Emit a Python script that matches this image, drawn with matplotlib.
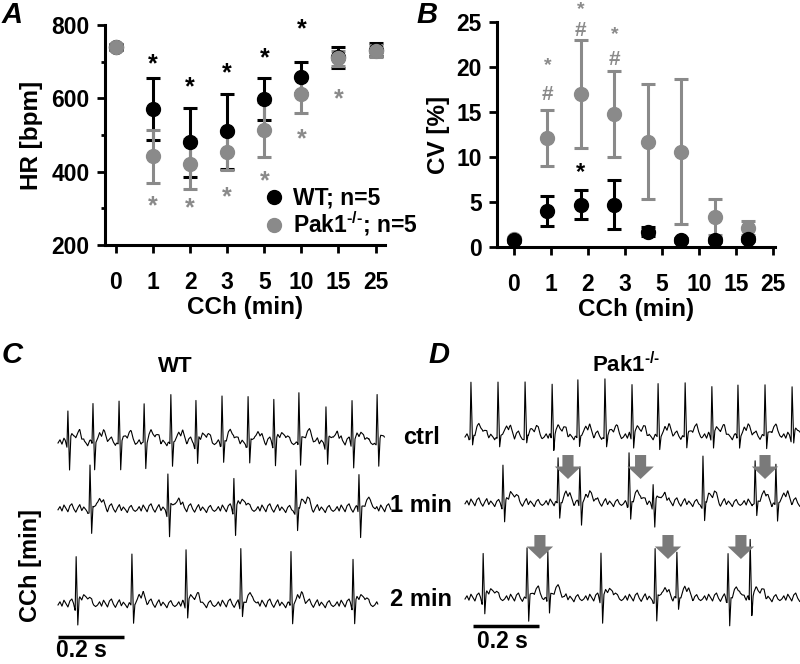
import numpy as np
import matplotlib
matplotlib.use('Agg')
import matplotlib.pyplot as plt
from matplotlib.lines import Line2D

plt.rcParams['font.family'] = ['Liberation Sans', 'DejaVu Sans']
plt.rcParams['font.weight'] = 'bold'
plt.rcParams['axes.labelweight'] = 'bold'
plt.rcParams['mathtext.fontset'] = 'custom'
plt.rcParams['mathtext.bf'] = 'Liberation Sans:bold'
plt.rcParams['mathtext.rm'] = 'Liberation Sans:bold'
plt.rcParams['mathtext.default'] = 'bf'

BLACK = '#000000'
GRAY = '#8a8a8a'
KO_LABEL = 'Pak1$^{\u2010/\u2010}$'

# ---- panel A / B data ----
cch_labels = ['0', '1', '2', '3', '5', '10', '15', '25']

hr_wt = [740, 572, 480, 510, 598, 658, 712, 733]
hr_wt_err = [8, 85, 95, 102, 58, 42, 28, 18]
hr_ko = [740, 442, 422, 455, 515, 612, 710, 730]
hr_ko_err = [8, 72, 68, 50, 75, 52, 20, 17]
hr_star_wt = [None, 692, 631, 669, 711, 788, None, None]
hr_star_ko = [None, 305, 300, 329, 375, 489, 598, None]

cv_wt = [0.8, 4.0, 4.7, 4.7, 1.7, 0.8, 0.8, 0.9]
cv_wt_err = [0.2, 1.7, 1.6, 2.7, 0.5, 0.2, 0.2, 0.2]
cv_ko = [0.9, 12.1, 17.0, 14.8, 11.7, 10.6, 3.3, 2.1]
cv_ko_err = [0.2, 3.1, 6.0, 4.8, 6.4, 8.1, 2.0, 0.8]
cv_star_ko = [None, 20.2, 26.4, 23.6, None, None, None, None]
cv_hash_ko = [None, 16.9, 24.0, 20.8, None, None, None, None]
cv_star_wt = [None, None, 8.3, None, None, None, None, None]

# ---- ECG traces: beat times (s), R height and S depth (mV) ----
row_names = ['ctrl', '1 min', '2 min']

wt_times = [
    [0.030, 0.106, 0.185, 0.261, 0.342, 0.418, 0.497, 0.576, 0.654, 0.730, 0.812, 0.891, 0.967],
    [0.097, 0.333, 0.533, 0.721, 0.912],
    [0.055, 0.224, 0.388, 0.554, 0.706, 0.894],
]
wt_r = [
    [0.85, 0.95, 0.93, 0.90, 1.10, 1.05, 1.08, 1.10, 1.15, 1.25, 0.93, 1.08, 1.15],
    [1.05, 0.90, 0.83, 0.98, 0.90],
    [1.25, 1.20, 1.40, 1.40, 1.30, 1.20],
]
wt_s = [
    [0.75, 0.65, 0.70, 0.65, 0.60, 0.60, 0.55, 0.60, 0.60, 0.60, 0.60, 0.60, 0.55],
    [0.70, 0.75, 0.65, 0.60, 0.75],
    [0.55, 0.45, 0.35, 0.35, 0.45, 0.50],
]
wt_dur = [0.99, 1.01, 0.97]

ko_times = [
    [0.018, 0.100, 0.182, 0.264, 0.342, 0.424, 0.506, 0.585, 0.667, 0.748, 0.827, 0.909, 0.991],
    [0.115, 0.282, 0.348, 0.497, 0.570, 0.721, 0.879, 0.942],
    [0.055, 0.188, 0.251, 0.412, 0.576, 0.642, 0.797, 0.864],
]
ko_r = [
    [1.25, 1.28, 1.30, 1.28, 1.32, 1.35, 1.30, 1.28, 1.25, 1.28, 1.28, 1.25, 1.28],
    [1.00, 1.00, 0.92, 1.18, 0.55, 1.18, 0.95, 0.88],
    [1.18, 1.20, 1.20, 1.18, 1.20, 1.02, 1.08, 1.45],
]
ko_s = [
    [0.25, 0.30, 0.25, 0.30, 0.25, 0.30, 0.25, 0.30, 0.25, 0.30, 0.25, 0.30, 0.25],
    [0.45, 0.40, 0.50, 0.45, 0.62, 0.50, 0.40, 0.45],
    [0.42, 0.55, 0.42, 0.60, 0.65, 0.30, 0.70, 0.38],
]
ko_dur = [1.015, 1.015, 1.015]

# arrows marking extra beats in Pak1-/- (s)
ko_arrows = [[], [0.312, 0.532, 0.909], [0.227, 0.615, 0.836]]

# small baseline wiggle, 6 ms per sample
ripple = [0.00, 0.08, -0.03, 0.12, 0.04, -0.05, 0.10, 0.15, 0.02, -0.06,
          0.05, 0.13, -0.02, 0.07, 0.01, -0.07, 0.06, 0.11, 0.00, -0.04]


def ecg(times, r_amp, s_amp, dur, dt=0.001):
    t = np.arange(0, dur, dt)
    rt = np.arange(len(ripple) + 1) * 0.006
    rv = ripple + ripple[:1]
    y = np.interp(t % rt[-1], rt, rv)
    for tb, a, s in zip(times, r_amp, s_amp):
        kt = tb + np.array([-0.008, -0.003, 0.0, 0.005, 0.009, 0.02, 0.035, 0.05])
        kv = [0, -0.1, a, -s, 0.05, 0.18, 0.22, 0]
        m = (t >= kt[0]) & (t <= kt[-1])
        y[m] += np.interp(t[m], kt, kv)
    return t, y


def style_axes(ax):
    for side in ['top', 'right']:
        ax.spines[side].set_visible(False)
    for side in ['left', 'bottom']:
        ax.spines[side].set_linewidth(2.2)
    ax.tick_params(axis='both', width=2, length=6, labelsize=16.5)
    ax.tick_params(axis='x', pad=13)
    ax.tick_params(axis='y', pad=5)


fig = plt.figure(figsize=(8, 6.64), dpi=100)

# ---------------- A ----------------
axA = fig.add_axes([0.131, 0.631, 0.35, 0.331])
xa = np.arange(len(cch_labels))
axA.errorbar(xa, hr_wt, yerr=hr_wt_err, fmt='none', ecolor=BLACK, elinewidth=2.2, capsize=5, capthick=2.2)
axA.errorbar(xa, hr_ko, yerr=hr_ko_err, fmt='none', ecolor=GRAY, elinewidth=2.2, capsize=5, capthick=2.2)
axA.plot(xa, hr_wt, 'o', color=BLACK, ms=10, zorder=3)
axA.plot(xa, hr_ko, 'o', color=GRAY, ms=10, zorder=4)
for i in range(len(xa)):
    if hr_star_wt[i] is not None:
        axA.text(xa[i], hr_star_wt[i], '*', color=BLACK, ha='center', va='center', fontsize=18)
    if hr_star_ko[i] is not None:
        axA.text(xa[i], hr_star_ko[i], '*', color=GRAY, ha='center', va='center', fontsize=18)
axA.set_xlim(-0.3, 7.25)
axA.set_ylim(200, 800)
axA.set_yticks([200, 400, 600, 800])
axA.set_yticks([300, 500, 700], minor=True)
axA.set_xticks(xa)
axA.set_xticklabels(cch_labels)
axA.set_xlabel('CCh (min)', fontsize=17.5, labelpad=1)
axA.set_ylabel('HR [bpm]', fontsize=17.5, labelpad=6)
style_axes(axA)
axA.tick_params(axis='y', which='minor', width=2, length=3)
handles = [Line2D([], [], marker='o', ls='none', color=BLACK, ms=10),
           Line2D([], [], marker='o', ls='none', color=GRAY, ms=10)]
leg = axA.legend(handles, ['WT; n=5', KO_LABEL + '; n=5'], loc='lower left',
                 bbox_to_anchor=(0.555, 0.02), frameon=False, fontsize=16.5,
                 handletextpad=0.35, labelspacing=0.0, borderaxespad=0,
                 borderpad=0.1, handlelength=1.0)

# ---------------- B ----------------
axB = fig.add_axes([0.621, 0.628, 0.3475, 0.339])
xb = np.arange(len(cch_labels)) * 0.905
axB.errorbar(xb, cv_ko, yerr=cv_ko_err, fmt='none', ecolor=GRAY, elinewidth=2.2, capsize=5, capthick=2.2)
axB.errorbar(xb, cv_wt, yerr=cv_wt_err, fmt='none', ecolor=BLACK, elinewidth=2.2, capsize=5, capthick=2.2)
axB.plot(xb, cv_ko, 'o', color=GRAY, ms=10, zorder=3)
axB.plot(xb, cv_wt, 'o', color=BLACK, ms=10, zorder=4)
for i in range(len(xb)):
    if cv_star_ko[i] is not None:
        axB.text(xb[i], cv_star_ko[i], '*', color=GRAY, ha='center', va='center', fontsize=14, clip_on=False)
    if cv_hash_ko[i] is not None:
        axB.text(xb[i], cv_hash_ko[i], '#', color=GRAY, ha='center', va='center', fontsize=15)
    if cv_star_wt[i] is not None:
        axB.text(xb[i], cv_star_wt[i], '*', color=BLACK, ha='center', va='center', fontsize=17)
axB.set_xlim(-0.46, 7.05)
axB.set_ylim(0, 25)
axB.set_yticks([0, 5, 10, 15, 20, 25])
axB.set_xticks(np.arange(len(cch_labels)))
axB.set_xticklabels(cch_labels)
axB.set_xlabel('CCh (min)', fontsize=17.5, labelpad=1)
axB.set_ylabel('CV [%]', fontsize=17.5, labelpad=4)
style_axes(axB)

# ---------------- C / D traces ----------------
axC = fig.add_axes([0.0725, 0.0166, 0.4125, 0.4066])
axD = fig.add_axes([0.58125, 0.0256, 0.41875, 0.4066])
offsets = [0.0, -1.67, -4.05]

for ax, times, rr, ss, durs in [(axC, wt_times, wt_r, wt_s, wt_dur),
                                (axD, ko_times, ko_r, ko_s, ko_dur)]:
    for k in range(3):
        t, y = ecg(times[k], rr[k], ss[k], durs[k])
        ax.plot(t, y + offsets[k], color=BLACK, lw=0.8, clip_on=False)
    ax.set_ylim(-5.25, 1.5)
    ax.axis('off')

axC.set_xlim(0, 1.0)
axD.set_xlim(0, 1.015)

for k in range(3):
    for ta in ko_arrows[k]:
        tip = offsets[k] + (0.62 if k == 1 else 1.0)
        axD.annotate('', xy=(ta, tip), xytext=(ta, tip + 0.6),
                     arrowprops=dict(facecolor='#7a7a7a', edgecolor='none', width=8,
                                     headwidth=19, headlength=9, shrink=0))

# scale bars 0.2 s
axC.plot([0, 0.2], [-4.85, -4.85], color=BLACK, lw=2.5, solid_capstyle='butt', clip_on=False)
axC.text(-0.005, -5.2, '0.2 s', ha='left', va='center', fontsize=16.5, clip_on=False)
axD.plot([0.024, 0.224], [-4.72, -4.72], color=BLACK, lw=2.5, solid_capstyle='butt', clip_on=False)
axD.text(0.036, -5.1, '0.2 s', ha='left', va='center', fontsize=16.5, clip_on=False)

# labels
fig.text(175 / 800, 1 - 366 / 664, 'WT', ha='center', va='center', fontsize=16)
fig.text(626 / 800, 1 - 365 / 664, KO_LABEL, ha='center', va='center', fontsize=16)
for name, yy in zip(row_names, [437, 505, 600]):
    fig.text(421 / 800, 1 - yy / 664, name, ha='center', va='center', fontsize=17)
fig.text(30 / 800, 1 - 566 / 664, 'CCh [min]', ha='center', va='center', rotation=90, fontsize=17)

for lab, px, py in [('A', 2, 15), ('B', 416, 15), ('C', 2, 355), ('D', 428, 355)]:
    fig.text(px / 800, 1 - py / 664, lab, ha='left', va='center', fontsize=21,
             fontweight='bold', fontstyle='italic')

fig.savefig('out.png', dpi=100)
